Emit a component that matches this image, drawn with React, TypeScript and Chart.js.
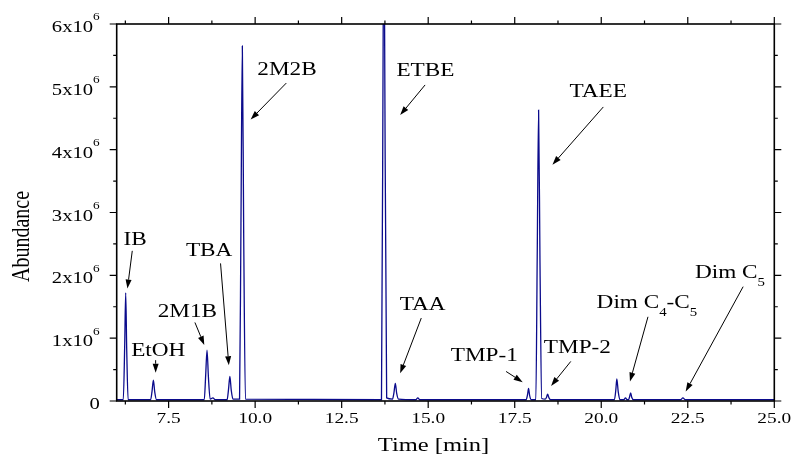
import React, { useEffect, useRef } from "react";
import { Chart, registerables } from "chart.js";

Chart.register(...registerables);

// ---- Chromatogram trace (time in min, abundance in counts) ----
const retentionTimes = [
  6.0, 6.19, 6.23, 6.26, 6.29, 6.33,
  6.98, 7.02, 7.06, 7.1, 7.15,
  8.53, 8.57, 8.61, 8.65, 8.7, 8.78, 8.85,
  9.19, 9.23, 9.27, 9.31, 9.36,
  9.55, 9.59, 9.63, 9.67, 9.72,
  13.65, 13.7, 13.72, 13.74, 13.8,
  13.97, 14.01, 14.05, 14.09, 14.14,
  14.64, 14.7, 14.76,
  17.83, 17.87, 17.9, 17.93, 17.98,
  18.11, 18.15, 18.19, 18.23, 18.28,
  18.38, 18.42, 18.45, 18.49, 18.54,
  20.38, 20.42, 20.45, 20.49, 20.54,
  20.65, 20.7, 20.75,
  20.79, 20.82, 20.85, 20.88, 20.93,
  22.29, 22.36, 22.43,
  25.0,
];
const abundances = [
  0.02e6, 0.02e6, 0.85e6, 1.72e6, 0.8e6, 0.02e6,
  0.02e6, 0.15e6, 0.33e6, 0.14e6, 0.02e6,
  0.02e6, 0.4e6, 0.81e6, 0.38e6, 0.03e6, 0.05e6, 0.02e6,
  0.02e6, 0.18e6, 0.39e6, 0.17e6, 0.03e6,
  0.03e6, 2.8e6, 5.65e6, 2.6e6, 0.03e6,
  0.02e6, 6.0e6, 8.5e6, 6.0e6, 0.05e6,
  0.03e6, 0.13e6, 0.28e6, 0.12e6, 0.03e6,
  0.02e6, 0.05e6, 0.02e6,
  0.02e6, 0.1e6, 0.2e6, 0.09e6, 0.02e6,
  0.02e6, 2.3e6, 4.63e6, 2.2e6, 0.04e6,
  0.03e6, 0.06e6, 0.11e6, 0.05e6, 0.02e6,
  0.02e6, 0.17e6, 0.35e6, 0.15e6, 0.02e6,
  0.02e6, 0.05e6, 0.02e6,
  0.02e6, 0.07e6, 0.13e6, 0.06e6, 0.02e6,
  0.02e6, 0.05e6, 0.02e6,
  0.02e6,
];

// ---- Axes ----
const xMin = 6.0;
const xMax = 25.0;
const yMin = 0;
const yMax = 6e6;
const xMajorTicks = [7.5, 10, 12.5, 15, 17.5, 20, 22.5, 25];
const xTickLabels = ["7.5", "10.0", "12.5", "15.0", "17.5", "20.0", "22.5", "25.0"];
const xMinorTicks = [6.25, 8.75, 11.25, 13.75, 16.25, 18.75, 21.25, 23.75];
const yMajorTicks = [0, 1e6, 2e6, 3e6, 4e6, 5e6, 6e6];
const yTickLabels = ["0", "1x10^6", "2x10^6", "3x10^6", "4x10^6", "5x10^6", "6x10^6"];
const yMinorTicks = [0.5e6, 1.5e6, 2.5e6, 3.5e6, 4.5e6, 5.5e6];
const xTitle = "Time [min]";
const yTitle = "Abundance";

// ---- Peak annotations (data coordinates) ----
const peakLabels = ["IB", "EtOH", "2M1B", "TBA", "2M2B", "ETBE", "TAA", "TMP-1", "TAEE", "TMP-2", "Dim C_4-C_5", "Dim C_5"];
const labelTimes = [6.53, 7.2, 8.04, 8.67, 10.92, 14.92, 14.84, 16.62, 19.91, 19.31, 21.32, 23.72];
const labelAbund = [2.58e6, 0.81e6, 1.44e6, 2.41e6, 5.28e6, 5.27e6, 1.55e6, 0.73e6, 4.93e6, 0.86e6, 1.58e6, 2.06e6];
const arrowFromTimes = [6.45, 7.125, 8.26, 9.0, 10.9, 14.91, 14.8, 17.25, 20.06, 19.12, 21.35, 24.1];
const arrowFromAbund = [2.39e6, 0.65e6, 1.25e6, 2.19e6, 5.06e6, 5.03e6, 1.32e6, 0.47e6, 4.68e6, 0.63e6, 1.34e6, 1.82e6];
const arrowToTimes = [6.31, 7.125, 8.53, 9.24, 9.87, 14.19, 14.19, 17.73, 18.59, 18.55, 20.83, 22.44];
const arrowToAbund = [1.79e6, 0.45e6, 0.89e6, 0.57e6, 4.48e6, 4.55e6, 0.44e6, 0.3e6, 3.76e6, 0.24e6, 0.31e6, 0.15e6];

const FONT = '"Liberation Serif", "Times New Roman", serif';
const STRETCH = 1.29;

type Seg = { t: string; kind: "n" | "sub" | "sup" };

function parseRich(s: string): Seg[] {
  const out: Seg[] = [];
  let buf = "";
  for (let i = 0; i < s.length; i++) {
    const c = s[i];
    if ((c === "_" || c === "^") && i + 1 < s.length) {
      if (buf) out.push({ t: buf, kind: "n" });
      buf = "";
      out.push({ t: s[i + 1], kind: c === "_" ? "sub" : "sup" });
      i++;
    } else buf += c;
  }
  if (buf) out.push({ t: buf, kind: "n" });
  return out;
}

function drawRich(
  ctx: CanvasRenderingContext2D,
  text: string,
  x: number,
  baseline: number,
  align: "left" | "center" | "right",
  size: number,
  stretch: number
) {
  const segs = parseRich(text);
  const small = size * 0.64;
  const widths = segs.map((s) => {
    ctx.font = `${s.kind === "n" ? size : small}px ${FONT}`;
    return ctx.measureText(s.t).width;
  });
  const total = widths.reduce((a, b) => a + b, 0);
  ctx.save();
  ctx.translate(x, baseline);
  ctx.scale(stretch, 1);
  ctx.textBaseline = "alphabetic";
  ctx.textAlign = "left";
  let cx = align === "center" ? -total / 2 : align === "right" ? -total : 0;
  segs.forEach((s, i) => {
    ctx.font = `${s.kind === "n" ? size : small}px ${FONT}`;
    const dy = s.kind === "sub" ? size * 0.46 : s.kind === "sup" ? -size * 0.72 : 0;
    ctx.fillText(s.t, cx, dy);
    cx += widths[i];
  });
  ctx.restore();
}

function drawArrow(ctx: CanvasRenderingContext2D, x1: number, y1: number, x2: number, y2: number) {
  const ang = Math.atan2(y2 - y1, x2 - x1);
  const headLen = 9;
  const headW = 3;
  const bx = x2 - headLen * Math.cos(ang);
  const by = y2 - headLen * Math.sin(ang);
  ctx.beginPath();
  ctx.moveTo(x1, y1);
  ctx.lineTo(bx, by);
  ctx.stroke();
  ctx.beginPath();
  ctx.moveTo(x2, y2);
  ctx.lineTo(bx + headW * Math.sin(ang), by - headW * Math.cos(ang));
  ctx.lineTo(bx - headW * Math.sin(ang), by + headW * Math.cos(ang));
  ctx.closePath();
  ctx.fill();
}

const framePlugin = {
  id: "originFrame",
  afterDraw(chart: any) {
    const { ctx, chartArea, scales } = chart;
    const xs = scales.x;
    const ys = scales.y;
    const { left, right, top, bottom } = chartArea;
    ctx.save();
    ctx.strokeStyle = "#000";
    ctx.fillStyle = "#000";

    // frame
    ctx.lineWidth = 1.6;
    ctx.strokeRect(left, top, right - left, bottom - top);

    // ticks
    ctx.lineWidth = 1.2;
    const majorLen = 7;
    const minorLen = 3.5;
    ctx.beginPath();
    xMajorTicks.forEach((v) => {
      const px = xs.getPixelForValue(v);
      ctx.moveTo(px, bottom);
      ctx.lineTo(px, bottom + majorLen);
      ctx.moveTo(px, top);
      ctx.lineTo(px, top - majorLen);
    });
    xMinorTicks.forEach((v) => {
      const px = xs.getPixelForValue(v);
      ctx.moveTo(px, bottom);
      ctx.lineTo(px, bottom + minorLen);
      ctx.moveTo(px, top);
      ctx.lineTo(px, top - minorLen);
    });
    yMajorTicks.forEach((v) => {
      const py = ys.getPixelForValue(v);
      ctx.moveTo(left, py);
      ctx.lineTo(left - majorLen, py);
      ctx.moveTo(right, py);
      ctx.lineTo(right + majorLen, py);
    });
    yMinorTicks.forEach((v) => {
      const py = ys.getPixelForValue(v);
      ctx.moveTo(left, py);
      ctx.lineTo(left - minorLen, py);
      ctx.moveTo(right, py);
      ctx.lineTo(right + minorLen, py);
    });
    ctx.stroke();

    // tick labels
    xMajorTicks.forEach((v, i) => {
      drawRich(ctx, xTickLabels[i], xs.getPixelForValue(v), bottom + 22, "center", 15, STRETCH);
    });
    yMajorTicks.forEach((v, i) => {
      drawRich(ctx, yTickLabels[i], left - 17, ys.getPixelForValue(v) + 8, "right", 16, STRETCH);
    });

    // axis titles
    drawRich(ctx, xTitle, (left + right) / 2 - 12, bottom + 50, "center", 19, STRETCH);
    ctx.save();
    ctx.translate(22, (top + bottom) / 2 + 24);
    ctx.scale(STRETCH, 1);
    ctx.rotate(-Math.PI / 2);
    ctx.font = `20px ${FONT}`;
    ctx.textAlign = "center";
    ctx.textBaseline = "middle";
    ctx.fillText(yTitle, 0, 0);
    ctx.restore();

    // annotations
    ctx.lineWidth = 1;
    peakLabels.forEach((lab, i) => {
      const lx = xs.getPixelForValue(labelTimes[i]);
      const ly = ys.getPixelForValue(labelAbund[i]);
      drawRich(ctx, lab, lx, ly + 6, "center", 18, STRETCH);
      drawArrow(
        ctx,
        xs.getPixelForValue(arrowFromTimes[i]),
        ys.getPixelForValue(arrowFromAbund[i]),
        xs.getPixelForValue(arrowToTimes[i]),
        ys.getPixelForValue(arrowToAbund[i])
      );
    });
    ctx.restore();
  },
};

export default function App() {
  const canvasRef = useRef<HTMLCanvasElement | null>(null);

  useEffect(() => {
    if (!canvasRef.current) return;
    const chart = new Chart(canvasRef.current, {
      type: "line",
      data: {
        datasets: [
          {
            data: retentionTimes.map((t, i) => ({ x: t, y: abundances[i] })),
            borderColor: "#0b0b8c",
            borderWidth: 1.3,
            pointRadius: 0,
            fill: false,
            cubicInterpolationMode: "monotone",
          },
        ],
      },
      options: {
        animation: false,
        responsive: true,
        maintainAspectRatio: false,
        layout: { padding: { left: 116.7, right: 22.7, top: 24, bottom: 56 } },
        plugins: { legend: { display: false }, tooltip: { enabled: false } },
        scales: {
          x: { type: "linear", display: false, min: xMin, max: xMax },
          y: { type: "linear", display: false, min: yMin, max: yMax },
        },
      },
      plugins: [framePlugin],
    });
    return () => chart.destroy();
  }, []);

  return (
    <div style={{ position: "fixed", left: 0, top: 0, width: 797, height: 457, background: "#fff" }}>
      <canvas ref={canvasRef} />
    </div>
  );
}
